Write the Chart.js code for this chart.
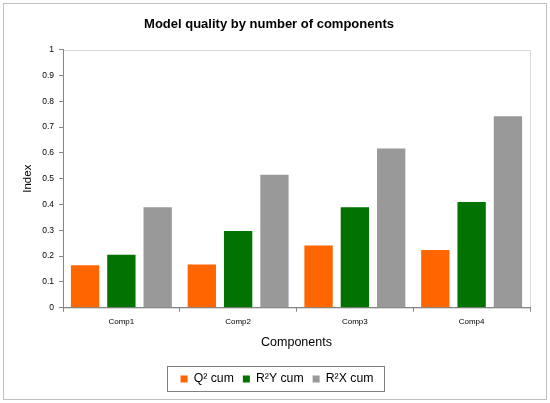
<!DOCTYPE html>
<html>
<head>
<meta charset="utf-8">
<script src="https://cdn.jsdelivr.net/npm/chart.js@4/dist/chart.umd.min.js"></script>
<style>
html,body{margin:0;padding:0;background:#fff;}
#wrap{width:550px;height:403px;position:relative;}
</style>
</head>
<body>
<div id="wrap"><canvas id="c" width="550" height="403"></canvas></div>
<script>
const categories = ['Comp1', 'Comp2', 'Comp3', 'Comp4'];
const q2Cum  = [0.165, 0.168, 0.241, 0.224];
const r2yCum = [0.205, 0.297, 0.389, 0.410];
const r2xCum = [0.389, 0.515, 0.617, 0.742];
const yTickLabels = ['0', '0.1', '0.2', '0.3', '0.4', '0.5', '0.6', '0.7', '0.8', '0.9', '1'];
const seriesNames = ['Q² cum', 'R²Y cum', 'R²X cum'];

const FONT = "'Liberation Sans', Arial, sans-serif";

const framePlugin = {
  id: 'frame',
  afterLayout(chart) {
    const lg = chart.legend;
    if (lg) { lg.left += 8; lg.right += 8; }
  },
  beforeDraw(chart) {
    const ctx = chart.ctx;
    ctx.save();
    ctx.fillStyle = '#fff';
    ctx.fillRect(0, 0, chart.width, chart.height);
    ctx.strokeStyle = '#bfbfbf';
    ctx.lineWidth = 1;
    ctx.strokeRect(3.5, 3.5, chart.width - 7, chart.height - 7);
    const a = chart.chartArea;
    ctx.strokeStyle = '#d9d9d9';
    ctx.strokeRect(Math.round(a.left) + 0.5, Math.round(a.top) + 0.5, Math.round(a.right - a.left), Math.round(a.bottom - a.top));
    ctx.restore();
  },
  afterDraw(chart) {
    const lg = chart.legend;
    if (!lg || !lg.legendHitBoxes || !lg.legendHitBoxes.length) return;
    const boxes = lg.legendHitBoxes;
    let x0 = Infinity, y0 = Infinity, x1 = -Infinity, y1 = -Infinity;
    boxes.forEach(b => {
      x0 = Math.min(x0, b.left); y0 = Math.min(y0, b.top);
      x1 = Math.max(x1, b.left + b.width); y1 = Math.max(y1, b.top + b.height);
    });
    const ctx = chart.ctx;
    ctx.save();
    ctx.strokeStyle = '#7f7f7f';
    ctx.lineWidth = 1;
    ctx.strokeRect(Math.round(x0 - 14) + 0.5, Math.round(y0 - 7) + 0.5, Math.round(x1 - x0 + 24), Math.round(y1 - y0 + 13));
    ctx.restore();
  }
};

new Chart(document.getElementById('c'), {
  type: 'bar',
  data: {
    labels: categories,
    datasets: [
      { label: seriesNames[0], data: q2Cum,  backgroundColor: '#ff6600' },
      { label: seriesNames[1], data: r2yCum, backgroundColor: '#007300' },
      { label: seriesNames[2], data: r2xCum, backgroundColor: '#999999' }
    ]
  },
  options: {
    responsive: false,
    animation: false,
    devicePixelRatio: 1,
    categoryPercentage: 0.933,
    barPercentage: 0.78,
    layout: { padding: { left: 8, right: 20, top: 0, bottom: 8 } },
    plugins: {
      title: {
        display: true,
        text: 'Model quality by number of components',
        color: '#000',
        font: { family: FONT, size: 13, weight: 'bold' },
        padding: { top: 17, bottom: 17 }
      },
      legend: {
        display: true,
        position: 'bottom',
        labels: {
          color: '#000',
          font: { family: FONT, size: 12.25 },
          boxWidth: 7,
          boxHeight: 7,
          padding: 9
        }
      },
      tooltip: { enabled: false }
    },
    scales: {
      x: {
        afterFit(s) { s.height = 56; },
        grid: { display: true, drawOnChartArea: false, offset: true, color: '#868686', tickLength: 4 },
        border: { display: true, color: '#868686' },
        ticks: { color: '#000', font: { family: FONT, size: 8 }, padding: 5 },
        title: { display: true, text: 'Components', color: '#000', font: { family: FONT, size: 12.5 }, padding: { top: 0, bottom: 14 } }
      },
      y: {
        min: 0, max: 1,
        afterFit(s) { s.width = 55; },
        grid: { display: true, drawOnChartArea: false, color: '#868686', tickLength: 4 },
        border: { display: true, color: '#868686' },
        ticks: {
          stepSize: 0.1,
          color: '#000',
          font: { family: FONT, size: 8.5 },
          padding: 5,
          callback: (v, i) => yTickLabels[i]
        },
        title: { display: true, text: 'Index', color: '#000', font: { family: FONT, size: 11.5 }, padding: { top: 13, bottom: 0 } }
      }
    }
  },
  plugins: [framePlugin]
});
</script>
</body>
</html>
